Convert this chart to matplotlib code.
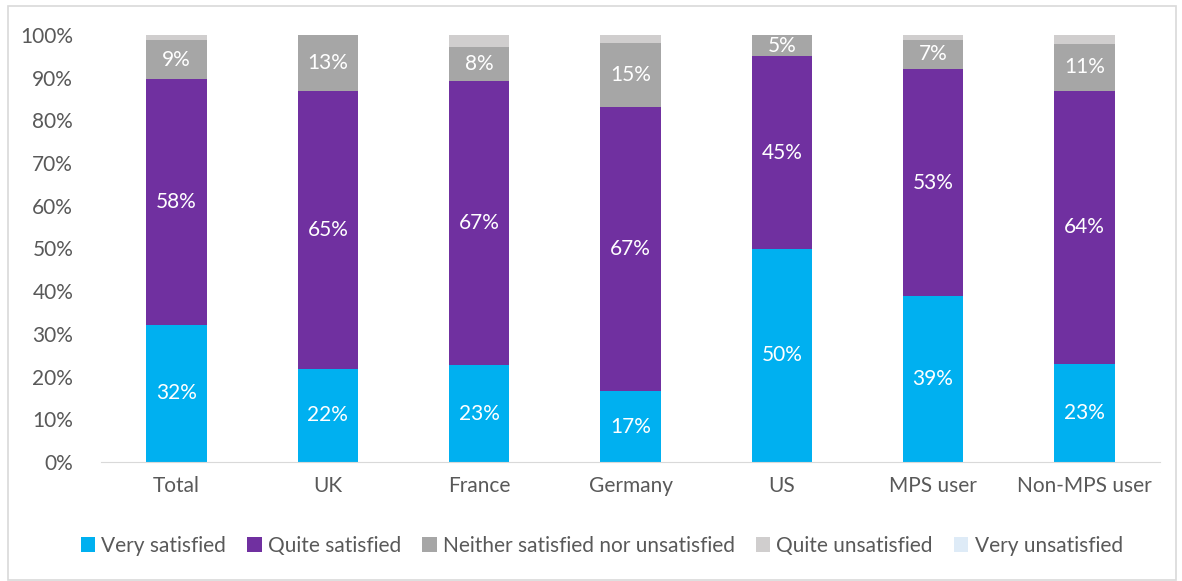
import numpy as np
import matplotlib.pyplot as plt
from matplotlib.patches import Rectangle

plt.rcParams['font.family'] = ['Lato', 'DejaVu Sans']

grupos = ['Total', 'UK', 'France', 'Germany', 'US', 'MPS user', 'Non-MPS user']
series = ['Very satisfied', 'Quite satisfied', 'Neither satisfied nor unsatisfied',
          'Quite unsatisfied', 'Very unsatisfied']
muy_sat = [32.1, 21.8, 22.7, 16.6, 49.9, 38.9, 23.0]
bast_sat = [57.6, 65.1, 66.6, 66.6, 45.1, 53.1, 63.9]
ni_ni = [9.1, 13.1, 8.0, 14.9, 5.0, 6.9, 11.1]
bast_ins = [1.2, 0, 2.7, 1.9, 0, 1.1, 2.0]
muy_ins = [0, 0, 0, 0, 0, 0, 0]
colores = ['#00B0F0', '#7030A0', '#A6A6A6', '#D0CECE', '#DEEBF7']

valores = [muy_sat, bast_sat, ni_ni, bast_ins, muy_ins]

fig = plt.figure(figsize=(11.82, 5.81), dpi=100)
ax = fig.add_axes([101 / 1182, 1 - 462 / 581, (1160 - 101) / 1182, (462 - 35) / 581])

x = np.arange(len(grupos))
base = np.zeros(len(grupos))
for vals, col, nom in zip(valores, colores, series):
    v = np.array(vals) / 100
    ax.bar(x, v, 0.4, bottom=base, color=col, label=nom, linewidth=0)
    for xi, b, h in zip(x, base, v):
        if h >= 0.045:
            ax.text(xi, b + h / 2, '%d%%' % round(h * 100), ha='center', va='center',
                    color='white', fontsize=15)
    base = base + v

ax.set_xlim(-0.5, len(grupos) - 0.5)
ax.set_ylim(0, 1)
ax.set_yticks(np.arange(0, 1.01, 0.1))
ax.set_yticklabels(['%d%%' % t for t in range(0, 101, 10)])
ax.set_xticks(x)
ax.set_xticklabels(grupos)
ax.tick_params(axis='both', length=0, labelsize=15, colors='#595959', pad=10)
ax.tick_params(axis='y', pad=20)
for s in ['top', 'right', 'left']:
    ax.spines[s].set_visible(False)
ax.spines['bottom'].set_color('#D9D9D9')

fig.legend(loc='center', bbox_to_anchor=(0.509, 1 - 546 / 581), ncol=5, frameon=False,
           fontsize=15, handlelength=0.7, handleheight=0.7, handletextpad=0.3,
           columnspacing=1.0, labelcolor='#595959')

fig.patches.append(Rectangle((8 / 1182, 0.002), 1168 / 1182, 1 - 6 / 581 - 0.002,
                             transform=fig.transFigure, fill=False,
                             edgecolor='#D9D9D9', linewidth=1.2))

fig.savefig('out.png', dpi=100)
